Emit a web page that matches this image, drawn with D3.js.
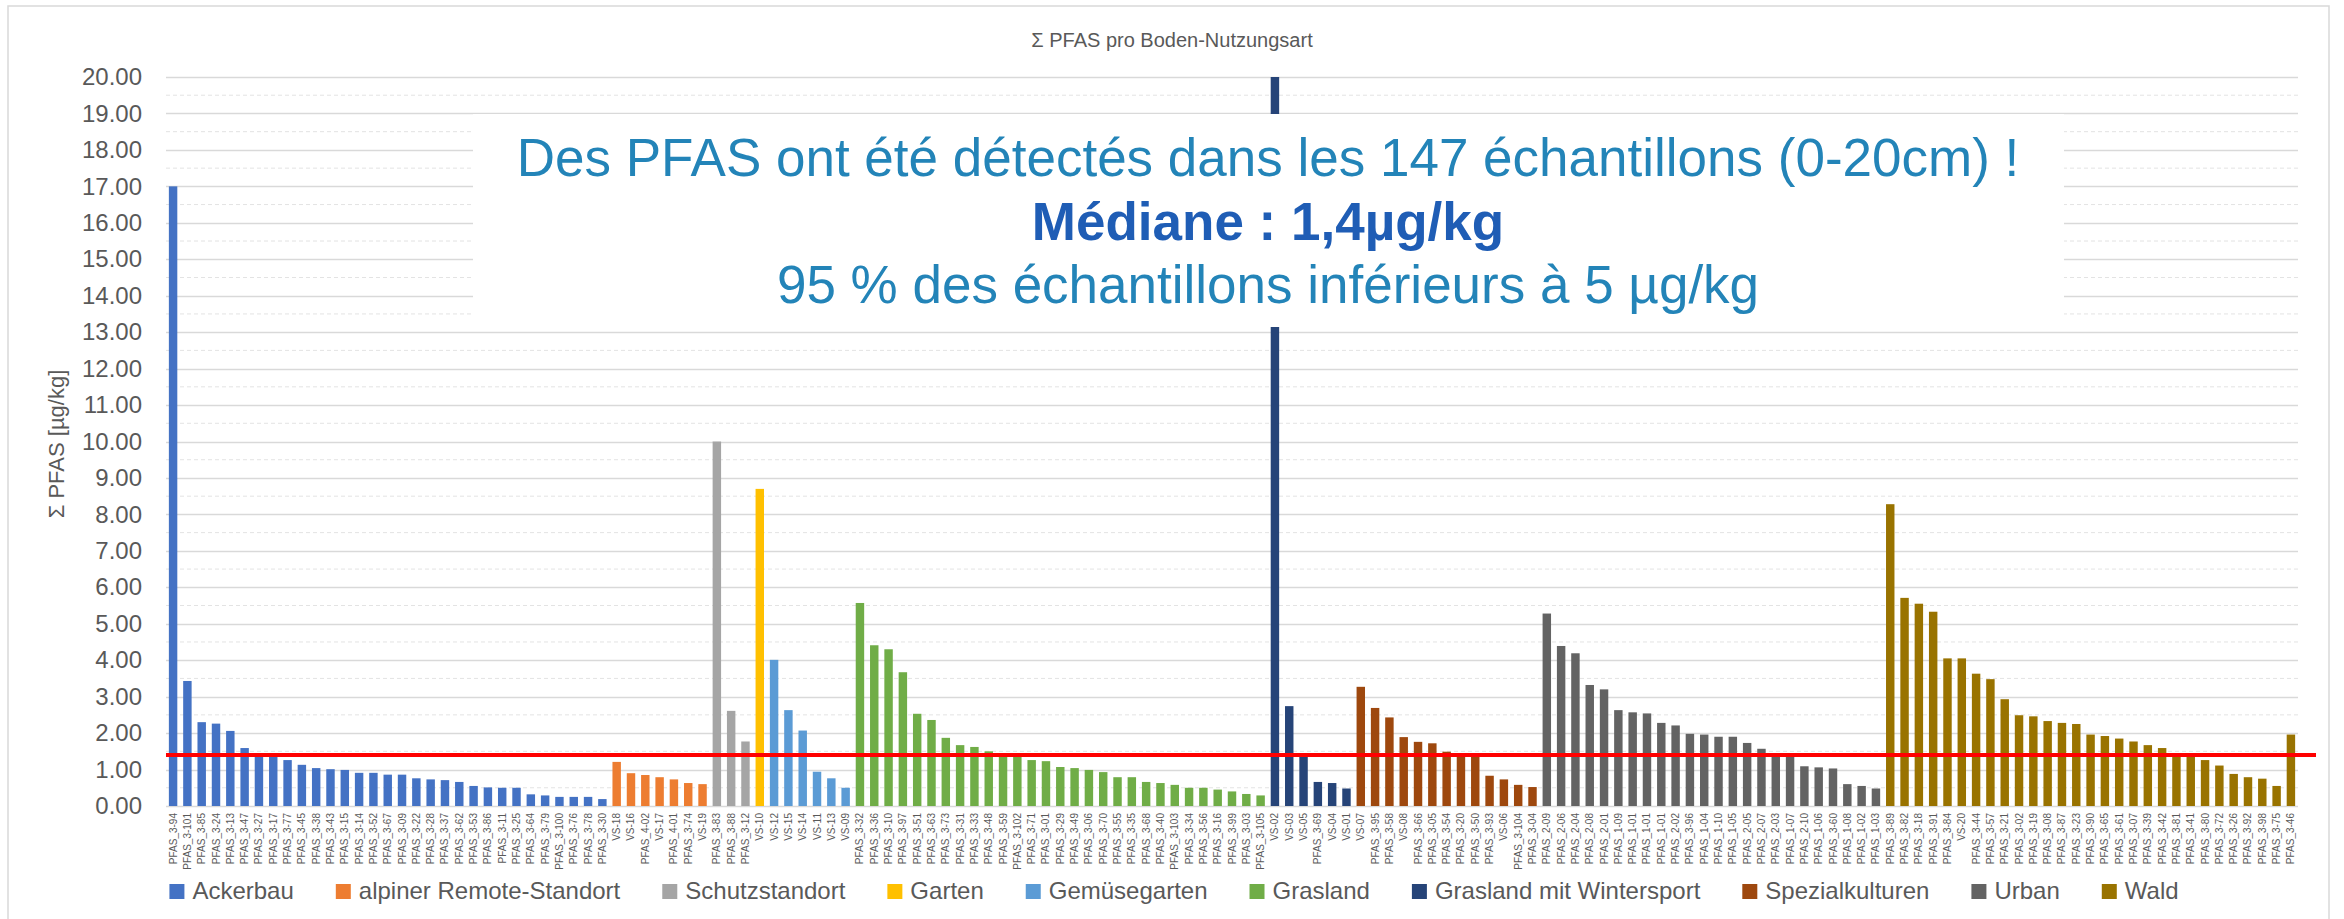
<!DOCTYPE html>
<html><head><meta charset="utf-8">
<script src="https://cdn.jsdelivr.net/npm/d3@7"></script>
<style>html,body{margin:0;padding:0;background:#fff;} svg{display:block;font-family:"Liberation Sans",Arial,sans-serif;}</style>
</head><body><svg id="chart" width="2344" height="919"></svg>
<script>
const chartTitle = "Σ PFAS pro Boden-Nutzungsart";
const yAxisTitle = "Σ PFAS [µg/kg]";
const categories = ["Ackerbau","alpiner Remote-Standort","Schutzstandort","Garten","Gemüsegarten","Grasland","Grasland mit Wintersport","Spezialkulturen","Urban","Wald"];
const categoryColors = ["#4472C4","#ED7D31","#A5A5A5","#FFC000","#5B9BD5","#70AD47","#264478","#9E480E","#636363","#997300"];

const ackerbauLabels = ["PFAS_3-94","PFAS_3-101","PFAS_3-85","PFAS_3-24","PFAS_3-13","PFAS_3-47","PFAS_3-27","PFAS_3-17","PFAS_3-77","PFAS_3-45","PFAS_3-38","PFAS_3-43","PFAS_3-15","PFAS_3-14","PFAS_3-52","PFAS_3-67","PFAS_3-09","PFAS_3-22","PFAS_3-28","PFAS_3-37","PFAS_3-62","PFAS_3-53","PFAS_3-86","PFAS_3-11","PFAS_3-25","PFAS_3-64","PFAS_3-79","PFAS_3-100","PFAS_3-76","PFAS_3-78","PFAS_3-30"];
const ackerbauValues = [17.0,3.43,2.30,2.26,2.06,1.59,1.45,1.41,1.26,1.13,1.04,1.01,0.99,0.91,0.91,0.86,0.86,0.76,0.73,0.71,0.66,0.55,0.51,0.50,0.50,0.32,0.29,0.25,0.25,0.25,0.19];

const alpinLabels = ["VS-18","VS-16","PFAS_4-02","VS-17","PFAS_4-01","PFAS_3-74","VS-19"];
const alpinValues = [1.21,0.90,0.85,0.79,0.73,0.63,0.60];

const schutzLabels = ["PFAS_3-83","PFAS_3-88","PFAS_3-12"];
const schutzValues = [10.0,2.61,1.77];

const gartenLabels = ["VS-10"];
const gartenValues = [8.7];

const gemueseLabels = ["VS-12","VS-15","VS-14","VS-11","VS-13","VS-09"];
const gemueseValues = [4.01,2.63,2.07,0.94,0.76,0.50];

const graslandLabels = ["PFAS_3-32","PFAS_3-36","PFAS_3-10","PFAS_3-97","PFAS_3-51","PFAS_3-63","PFAS_3-73","PFAS_3-31","PFAS_3-33","PFAS_3-48","PFAS_3-59","PFAS_3-102","PFAS_3-71","PFAS_3-01","PFAS_3-29","PFAS_3-49","PFAS_3-06","PFAS_3-70","PFAS_3-55","PFAS_3-35","PFAS_3-68","PFAS_3-40","PFAS_3-103","PFAS_3-34","PFAS_3-56","PFAS_3-16","PFAS_3-99","PFAS_3-03","PFAS_3-105"];
const graslandValues = [5.57,4.41,4.30,3.67,2.53,2.36,1.87,1.67,1.62,1.50,1.44,1.41,1.26,1.23,1.07,1.04,0.99,0.93,0.79,0.79,0.66,0.63,0.58,0.50,0.50,0.45,0.40,0.33,0.29];

const wintersportLabels = ["VS-02","VS-03","VS-05","PFAS_3-69","VS-04","VS-01"];
const wintersportValues = [20.0,2.74,1.42,0.66,0.63,0.48];

const spezialLabels = ["VS-07","PFAS_3-95","PFAS_3-58","VS-08","PFAS_3-66","PFAS_3-05","PFAS_3-54","PFAS_3-20","PFAS_3-50","PFAS_3-93","VS-06","PFAS_3-104","PFAS_3-04"];
const spezialValues = [3.27,2.69,2.43,1.89,1.76,1.72,1.49,1.44,1.42,0.83,0.73,0.58,0.52];

const urbanLabels = ["PFAS_2-09","PFAS_2-06","PFAS_2-04","PFAS_2-08","PFAS_2-01","PFAS_1-09","PFAS_1-01","PFAS_1-01","PFAS_1-01","PFAS_2-02","PFAS_3-96","PFAS_1-04","PFAS_1-10","PFAS_1-05","PFAS_2-05","PFAS_2-07","PFAS_2-03","PFAS_1-07","PFAS_2-10","PFAS_1-06","PFAS_3-60","PFAS_1-08","PFAS_1-02","PFAS_1-03"];
const urbanValues = [5.28,4.39,4.19,3.32,3.20,2.63,2.57,2.54,2.28,2.21,1.98,1.96,1.90,1.90,1.73,1.57,1.44,1.42,1.09,1.06,1.03,0.60,0.55,0.48];

const waldLabels = ["PFAS_3-89","PFAS_3-82","PFAS_3-18","PFAS_3-91","PFAS_3-84","VS-20","PFAS_3-44","PFAS_3-57","PFAS_3-21","PFAS_3-02","PFAS_3-19","PFAS_3-08","PFAS_3-87","PFAS_3-23","PFAS_3-90","PFAS_3-65","PFAS_3-61","PFAS_3-07","PFAS_3-39","PFAS_3-42","PFAS_3-81","PFAS_3-41","PFAS_3-80","PFAS_3-72","PFAS_3-26","PFAS_3-92","PFAS_3-98","PFAS_3-75","PFAS_3-46"];
const waldValues = [8.28,5.71,5.55,5.33,4.05,4.05,3.63,3.48,2.93,2.49,2.46,2.33,2.28,2.25,1.96,1.92,1.85,1.77,1.67,1.59,1.45,1.42,1.26,1.11,0.88,0.79,0.75,0.55,1.96];

const yTicks = d3.range(0, 21, 1);
const yMinorTicks = d3.range(0.5, 20, 1);
const medianValue = 1.4;
const noteLines = ["Des PFAS ont été détectés dans les 147 échantillons (0-20cm) !","Médiane : 1,4µg/kg","95 % des échantillons inférieurs à 5 µg/kg"];

const groupLabels = [ackerbauLabels,alpinLabels,schutzLabels,gartenLabels,gemueseLabels,graslandLabels,wintersportLabels,spezialLabels,urbanLabels,waldLabels];
const groupValues = [ackerbauValues,alpinValues,schutzValues,gartenValues,gemueseValues,graslandValues,wintersportValues,spezialValues,urbanValues,waldValues];

const samples = [];
groupLabels.forEach((labs, g) => labs.forEach((l, j) => samples.push({i: samples.length, label: l, value: groupValues[g][j], group: g})));

const svg = d3.select("#chart");
const W = 2344, H = 919;
const plotL = 166, plotR = 2298, plotT = 77, plotB = 806;
const grey = "#595959";

svg.append("rect").attr("x",8).attr("y",6).attr("width",2321).attr("height",930)
  .attr("fill","#fff").attr("stroke","#d9d9d9").attr("stroke-width",1.5);

const x = d3.scaleBand().domain(samples.map(d => d.i)).range([plotL, plotR]).paddingInner(0.41).paddingOuter(0.2);
const y = d3.scaleLinear().domain([0, 20]).range([plotB, plotT]);

// gridlines
svg.append("g").selectAll("line").data(yMinorTicks).join("line")
  .attr("x1",plotL).attr("x2",plotR).attr("y1",d=>y(d)).attr("y2",d=>y(d))
  .attr("stroke","#e3e3e3").attr("stroke-width",1).attr("stroke-dasharray","4,3");
svg.append("g").selectAll("line").data(yTicks).join("line")
  .attr("x1",plotL).attr("x2",plotR).attr("y1",d=>Math.round(y(d))+0.5).attr("y2",d=>Math.round(y(d))+0.5)
  .attr("stroke","#d9d9d9").attr("stroke-width",1.5);

// bars
svg.append("g").selectAll("rect").data(samples).join("rect")
  .attr("x",d=>x(d.i)).attr("width",x.bandwidth())
  .attr("y",d=>y(Math.min(d.value,20))).attr("height",d=>y(0)-y(Math.min(d.value,20)))
  .attr("fill",d=>categoryColors[d.group]);

// median line
svg.append("line").attr("x1",plotL).attr("x2",2316).attr("y1",y(medianValue)).attr("y2",y(medianValue))
  .attr("stroke","#ff0000").attr("stroke-width",4);

// y axis
const yAxis = svg.append("g").attr("transform",`translate(${plotL},0)`)
  .call(d3.axisLeft(y).tickValues(yTicks).tickFormat(d3.format(".2f")).tickSize(0).tickPadding(24));
yAxis.select(".domain").remove();
yAxis.selectAll("text").attr("font-size",24).attr("fill",grey).attr("font-family","Liberation Sans, Arial, sans-serif");

// x axis
const xAxis = svg.append("g").attr("transform",`translate(0,${plotB})`)
  .call(d3.axisBottom(x).tickFormat(i => samples[i].label).tickSize(0));
xAxis.select(".domain").remove();
xAxis.selectAll("text").attr("transform","rotate(-90)").attr("x",-7).attr("y",0).attr("dy","0.35em")
  .attr("text-anchor","end").attr("font-size",10).attr("fill",grey).attr("font-family","Liberation Sans, Arial, sans-serif");

// annotation box
svg.append("rect").attr("x",473).attr("y",114).attr("width",1591).attr("height",213).attr("fill","#fff");
const noteColors = ["#2384B8","#1F5DB5","#2384B8"];
const noteY = [176,240,303];
noteLines.forEach((t,k) => {
  svg.append("text").attr("x",1268).attr("y",noteY[k]).attr("text-anchor","middle")
    .attr("font-size",53).attr("font-weight",k===1?"bold":"normal").attr("fill",noteColors[k]).text(t);
});

// titles
svg.append("text").attr("x",1172).attr("y",47).attr("text-anchor","middle").attr("font-size",20).attr("fill",grey).text(chartTitle);
svg.append("text").attr("transform","translate(64,444) rotate(-90)").attr("text-anchor","middle").attr("font-size",22).attr("fill",grey).text(yAxisTitle);

// legend
const leg = svg.append("g");
let cx = 0;
categories.forEach((c,k) => {
  const g = leg.append("g").attr("transform",`translate(${cx},0)`);
  g.append("rect").attr("x",0).attr("y",884).attr("width",15).attr("height",15).attr("fill",categoryColors[k]);
  const t = g.append("text").attr("x",23).attr("y",899).attr("font-size",24).attr("fill",grey).text(c);
  const w = t.node().getComputedTextLength();
  cx += 23 + w + 42;
});
const totalW = cx - 42;
leg.attr("transform",`translate(${(W - totalW)/2 + 2},0)`);
</script>
</body></html>
